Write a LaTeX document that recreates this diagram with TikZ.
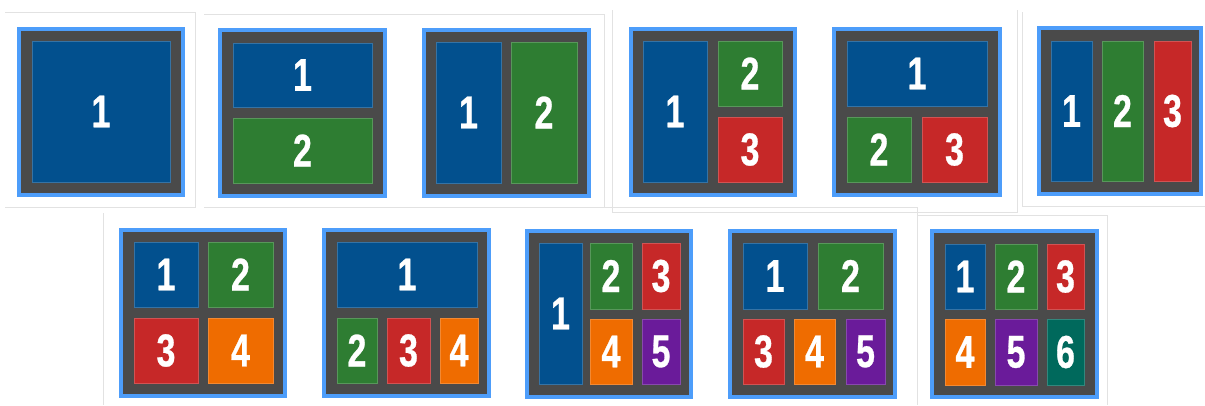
\documentclass[tikz,border=0pt]{standalone}
\usepackage{fontspec}
\usepackage{tikz}
\usetikzlibrary{fit,positioning}
\newfontfamily\digitfont[UprightFont={* Bold},FakeStretch=0.74,FakeBold=0.6]{Liberation Sans}
\definecolor{frameblue}{HTML}{4D9DFA}
\definecolor{framegray}{HTML}{4A4A4A}
\definecolor{cardline}{HTML}{E2E2E2}
\definecolor{lblue}{HTML}{02508E}
\definecolor{lgreen}{HTML}{2E7D32}
\definecolor{lred}{HTML}{C62828}
\definecolor{lorange}{HTML}{EF6C00}
\definecolor{lpurple}{HTML}{6A1B9A}
\definecolor{lteal}{HTML}{00695C}

\begin{document}
\begin{tikzpicture}[x=1pt,y=-1pt,
  frame/.style={draw=frameblue,fill=framegray,line width=4pt,inner sep=0pt},
  tile/.style={draw=#1!80!white,fill=#1,line width=0.8pt,inner sep=0pt},
  every label/.style={inner sep=0pt,text=white,
    font=\digitfont\fontsize{46}{46}\selectfont}]
\useasboundingbox (0,0) rectangle (1205,405);
% cards behind the layouts
\draw[cardline] (5,12) -- (195,12) -- (195,207) -- (5,207);
\draw[cardline] (204,14) -- (604,14) -- (604,207) -- (204,207);
\draw[cardline] (612,10) -- (612,212) -- (1017,212) -- (1017,10);
\draw[cardline] (1022,12) -- (1022,206) -- (1205,206);
\draw[cardline] (103,213) -- (103,405) (204,207) -- (917,207) -- (917,405);
\draw[cardline] (917,215) -- (1107,215) -- (1107,405);
% one tile
\node[frame, fit={(19,29) (182.5,195)}] (f1) {};
\node[tile=lblue, fit={(32,41) (170,182)}, label=center:1] (f1a) {};
% two tiles
\node[frame, fit={(220,30) (385,196)}] (f2) {};
\node[tile=lblue, fit={(233,43) (372,107)}, label=center:1] (f2a) {};
\node[tile=lgreen, fit={(233,118) (372,183)}, label=center:2] (f2b) {};
\node[frame, fit={(424,30) (589,196)}] (f3) {};
\node[tile=lblue, fit={(436,42) (501,183)}, label=center:1] (f3a) {};
\node[tile=lgreen, fit={(511,42) (577,183)}, label=center:2] (f3b) {};
% three tiles
\node[frame, fit={(631,29) (795,195)}] (f4) {};
\node[tile=lblue, fit={(643,41) (707,182)}, label=center:1] (f4a) {};
\node[tile=lgreen, fit={(718,41) (782,106)}, label=center:2] (f4b) {};
\node[tile=lred, fit={(718,117) (782,182)}, label=center:3] (f4c) {};
\node[frame, fit={(834,29) (1000,195)}] (f5) {};
\node[tile=lblue, fit={(847,41) (987,106)}, label=center:1] (f5a) {};
\node[tile=lgreen, fit={(847,117) (911,182)}, label=center:2] (f5b) {};
\node[tile=lred, fit={(922,117) (987,182)}, label=center:3] (f5c) {};
\node[frame, fit={(1039,28) (1201,194)}] (f6) {};
\node[tile=lblue, fit={(1051,41) (1092,181)}, label=center:1] (f6a) {};
\node[tile=lgreen, fit={(1102,41) (1143,181)}, label=center:2] (f6b) {};
\node[tile=lred, fit={(1154,41) (1191,181)}, label=center:3] (f6c) {};
% four tiles
\node[frame, fit={(121,230) (285,396)}] (f7) {};
\node[tile=lblue, fit={(134,242) (198,307)}, label=center:1] (f7a) {};
\node[tile=lgreen, fit={(208,242) (273,307)}, label=center:2] (f7b) {};
\node[tile=lred, fit={(134,318) (198,383)}, label=center:3] (f7c) {};
\node[tile=lorange, fit={(208,318) (273,383)}, label=center:4] (f7d) {};
\node[frame, fit={(324,230) (489,396)}] (f8) {};
\node[tile=lblue, fit={(337,242) (477,307)}, label=center:1] (f8a) {};
\node[tile=lgreen, fit={(337,318) (377,383)}, label=center:2] (f8b) {};
\node[tile=lred, fit={(387,318) (430,383)}, label=center:3] (f8c) {};
\node[tile=lorange, fit={(440,318) (478,383)}, label=center:4] (f8d) {};
% five tiles
\node[frame, fit={(527,231) (691,397)}] (f9) {};
\node[tile=lblue, fit={(539,243) (582,384)}, label=center:1] (f9a) {};
\node[tile=lgreen, fit={(590,243) (632,309)}, label=center:2] (f9b) {};
\node[tile=lred, fit={(642,243) (680,309)}, label=center:3] (f9c) {};
\node[tile=lorange, fit={(590,319) (632,384)}, label=center:4] (f9d) {};
\node[tile=lpurple, fit={(642,319) (680,384)}, label=center:5] (f9e) {};
\node[frame, fit={(730,231) (895,397)}] (f10) {};
\node[tile=lblue, fit={(743,243) (807,309)}, label=center:1] (f10a) {};
\node[tile=lgreen, fit={(818,243) (883,309)}, label=center:2] (f10b) {};
\node[tile=lred, fit={(743,319) (784,384)}, label=center:3] (f10c) {};
\node[tile=lorange, fit={(794,319) (835,384)}, label=center:4] (f10d) {};
\node[tile=lpurple, fit={(846,319) (885,384)}, label=center:5] (f10e) {};
% six tiles
\node[frame, fit={(932,231) (1097,397)}] (f11) {};
\node[tile=lblue, fit={(945,244) (985,309)}, label=center:1] (f11a) {};
\node[tile=lgreen, fit={(995,244) (1037,309)}, label=center:2] (f11b) {};
\node[tile=lred, fit={(1047,244) (1084,309)}, label=center:3] (f11c) {};
\node[tile=lorange, fit={(945,319) (985,385)}, label=center:4] (f11d) {};
\node[tile=lpurple, fit={(995,319) (1037,385)}, label=center:5] (f11e) {};
\node[tile=lteal, fit={(1047,319) (1084,385)}, label=center:6] (f11f) {};
\end{tikzpicture}
\end{document}
